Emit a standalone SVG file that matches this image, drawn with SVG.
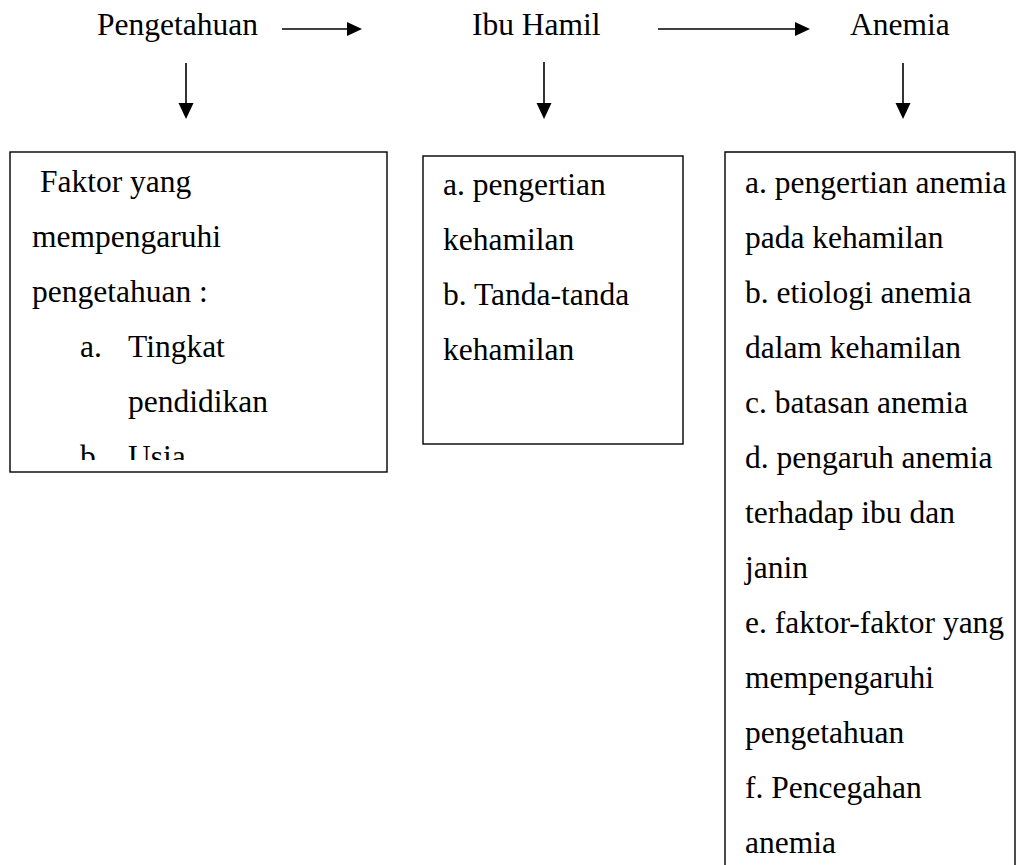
<svg xmlns="http://www.w3.org/2000/svg" width="1035" height="865" viewBox="0 0 1035 865">
<style>
text{font-family:"Liberation Serif","Times New Roman",serif;font-size:31.5px;fill:#000}
.box{fill:#fff;stroke:#000;stroke-width:1.4}
.conn{stroke:#000;stroke-width:1.6;fill:none}
.head{fill:#000}
</style>
<defs>
<clipPath id="clip1"><rect x="11" y="153" width="375" height="307"/></clipPath>
</defs>
<rect width="1035" height="865" fill="#fff"/>
<g id="node-pengetahuan"><text x="97" y="35">Pengetahuan</text></g>
<g id="node-ibuhamil"><text x="472" y="35">Ibu Hamil</text></g>
<g id="node-anemia"><text x="850" y="35">Anemia</text></g>
<g id="connectors">
<line class="conn" x1="282" y1="29" x2="350" y2="29"/>
<polygon class="head" points="347,22 362,29 347,36"/>
<line class="conn" x1="658" y1="29" x2="798" y2="29"/>
<polygon class="head" points="795,22 810,29 795,36"/>
<line class="conn" x1="186" y1="63" x2="186" y2="106"/>
<polygon class="head" points="178.5,103 193.5,103 186,119"/>
<line class="conn" x1="544" y1="62" x2="544" y2="106"/>
<polygon class="head" points="536.5,103 551.5,103 544,119"/>
<line class="conn" x1="903" y1="63" x2="903" y2="106"/>
<polygon class="head" points="895.5,103 910.5,103 903,119"/>
</g>
<g id="box-faktor">
<rect class="box" x="10" y="152" width="377" height="320"/>
<g clip-path="url(#clip1)">
<text x="40" y="192">Faktor yang</text>
<text x="32" y="247">mempengaruhi</text>
<text x="32" y="302">pengetahuan :</text>
<text x="80" y="357">a.</text><text x="128" y="357">Tingkat</text>
<text x="128" y="412">pendidikan</text>
<text x="80" y="467">b.</text><text x="128" y="467">Usia</text>
</g>
</g>
<g id="box-ibuhamil">
<rect class="box" x="423" y="156" width="260" height="288"/>
<text x="443" y="195">a. pengertian</text>
<text x="443" y="250">kehamilan</text>
<text x="443" y="305">b. Tanda-tanda</text>
<text x="443" y="360">kehamilan</text>
</g>
<g id="box-anemia">
<path class="box" d="M725,880 V152 H1015 V880"/>
<text x="745" y="193">a. pengertian anemia</text>
<text x="745" y="248">pada kehamilan</text>
<text x="745" y="303">b. etiologi anemia</text>
<text x="745" y="358">dalam kehamilan</text>
<text x="745" y="413">c. batasan anemia</text>
<text x="745" y="468">d. pengaruh anemia</text>
<text x="745" y="523">terhadap ibu dan</text>
<text x="745" y="578">janin</text>
<text x="745" y="633">e. faktor-faktor yang</text>
<text x="745" y="688">mempengaruhi</text>
<text x="745" y="743">pengetahuan</text>
<text x="745" y="798">f. Pencegahan</text>
<text x="745" y="853">anemia</text>
</g>
</svg>
